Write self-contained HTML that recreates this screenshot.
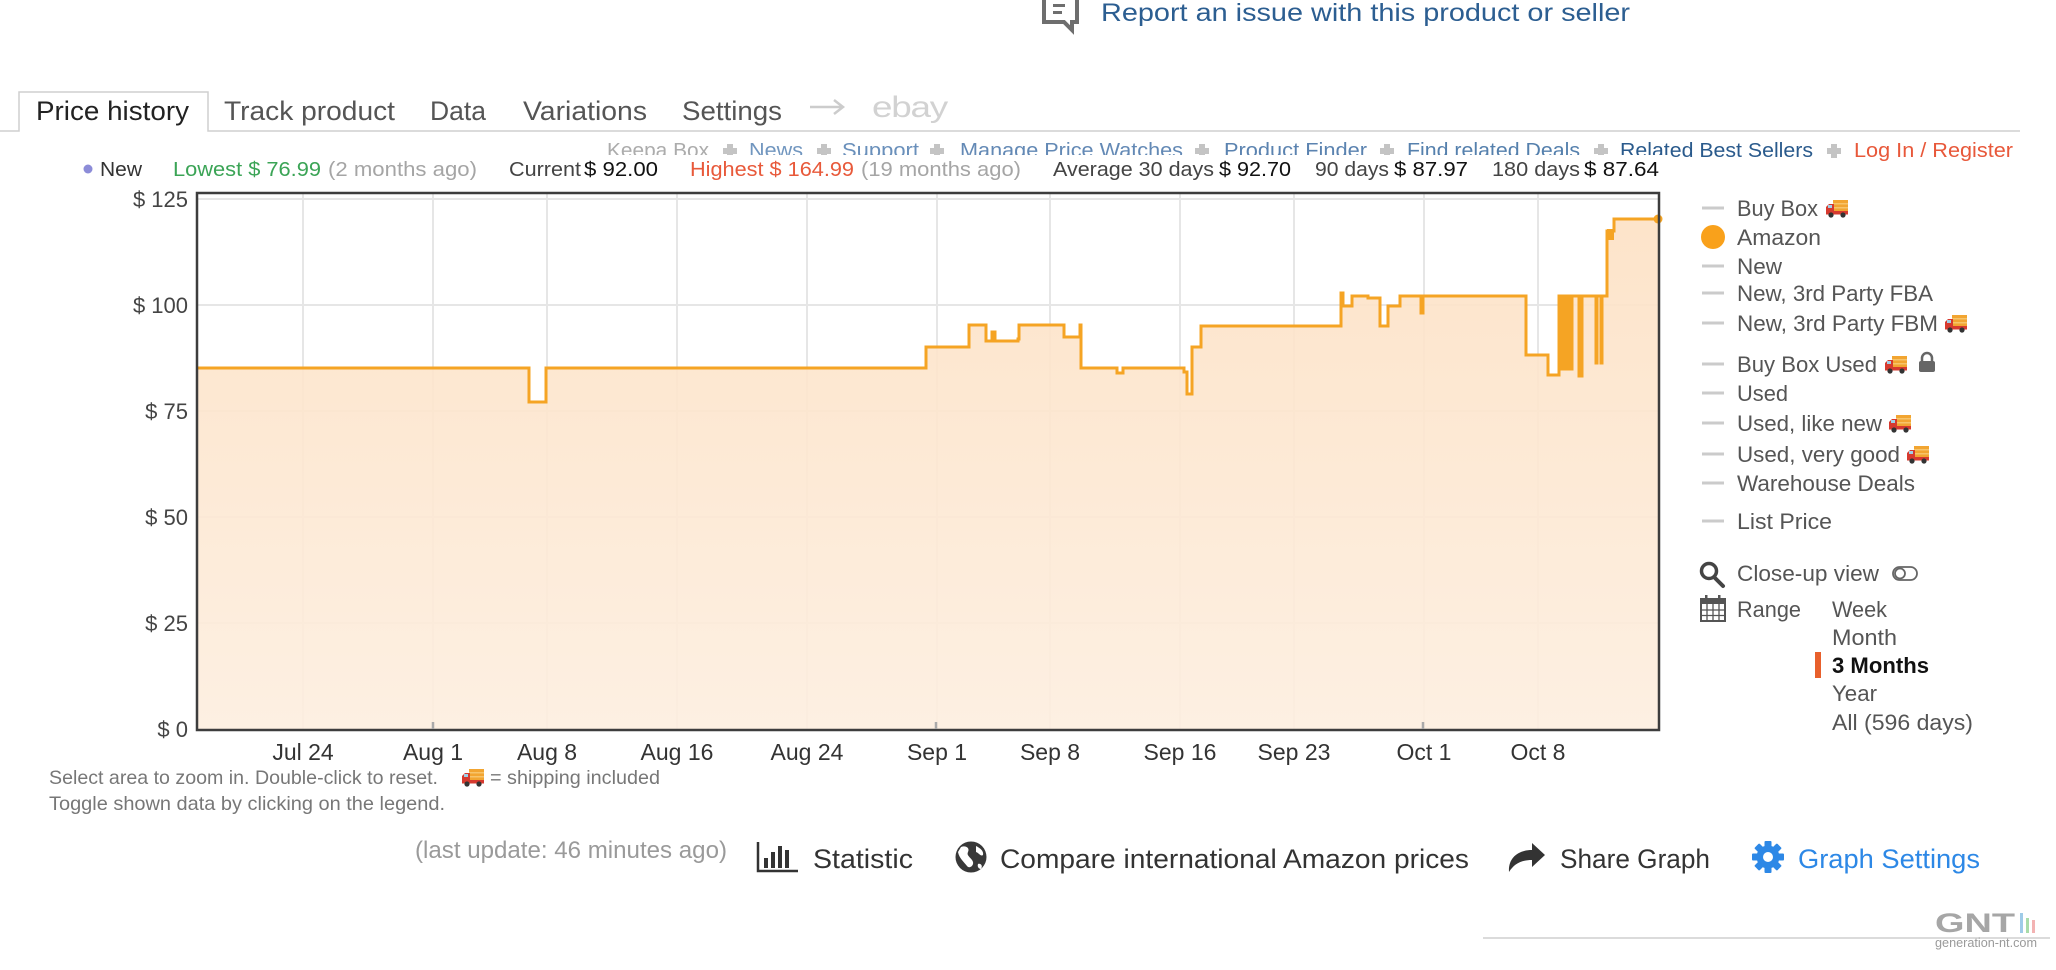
<!DOCTYPE html>
<html>
<head>
<meta charset="utf-8">
<style>
  html, body { margin:0; padding:0; background:#fff; }
  body { width:2056px; height:970px; overflow:hidden; }
  svg { display:block; }
  text { font-family: "Liberation Sans", Arial, sans-serif; }
</style>
</head>
<body>
<svg width="2056" height="970" viewBox="0 0 2056 970" xmlns="http://www.w3.org/2000/svg">
  <defs>
    <linearGradient id="fillg" x1="0" y1="219" x2="0" y2="729" gradientUnits="userSpaceOnUse">
      <stop offset="0" stop-color="#fde1c4"/>
      <stop offset="1" stop-color="#fdeedf"/>
    </linearGradient>
  </defs>

  <!-- Report issue -->
  <g fill="none" stroke="#6e6e6e" stroke-width="4">
    <path d="M1044,-4 V22 H1064 L1072,30 V22 H1077 V-4"/>
  </g>
  <rect x="1053" y="4" width="12" height="3" fill="#6e6e6e"/>
  <rect x="1053" y="11" width="9" height="3" fill="#6e6e6e"/>
  <text x="1101" y="21" font-size="25" fill="#2c5e91" textLength="529" lengthAdjust="spacingAndGlyphs">Report an issue with this product or seller</text>

  <!-- Tabs -->
  <path d="M0,131 H19 V92 H208 V131 H2020" fill="none" stroke="#cfcfcf" stroke-width="1.5"/>
  <text x="36" y="120" font-size="27" fill="#222" textLength="153" lengthAdjust="spacingAndGlyphs">Price history</text>
  <text x="224" y="120" font-size="27" fill="#555" textLength="171" lengthAdjust="spacingAndGlyphs">Track product</text>
  <text x="430" y="120" font-size="27" fill="#555" textLength="56" lengthAdjust="spacingAndGlyphs">Data</text>
  <text x="523" y="120" font-size="27" fill="#555" textLength="124" lengthAdjust="spacingAndGlyphs">Variations</text>
  <text x="682" y="120" font-size="27" fill="#555" textLength="100" lengthAdjust="spacingAndGlyphs">Settings</text>
  <path d="M810,107 H842 M834,100 L843,107 L834,114" fill="none" stroke="#cccccc" stroke-width="2.5"/>
  <text x="872" y="117" font-size="30" fill="#d2d2d2" textLength="75" lengthAdjust="spacingAndGlyphs" letter-spacing="-1">ebay</text>

  <!-- Links row -->
  <g font-size="20.5">
    <text x="607" y="157" fill="#acacac" textLength="102" lengthAdjust="spacingAndGlyphs">Keepa Box</text>
    <text x="749" y="157" fill="#7196bf" textLength="54" lengthAdjust="spacingAndGlyphs">News</text>
    <text x="842" y="157" fill="#6a90bb" textLength="77" lengthAdjust="spacingAndGlyphs">Support</text>
    <text x="960" y="157" fill="#6389b5" textLength="223" lengthAdjust="spacingAndGlyphs">Manage Price Watches</text>
    <text x="1224" y="157" fill="#5b83b0" textLength="143" lengthAdjust="spacingAndGlyphs">Product Finder</text>
    <text x="1407" y="157" fill="#5580ad" textLength="173" lengthAdjust="spacingAndGlyphs">Find related Deals</text>
    <text x="1620" y="157" fill="#2a5a8c" textLength="193" lengthAdjust="spacingAndGlyphs">Related Best Sellers</text>
    <text x="1854" y="157" fill="#e8583a" textLength="159" lengthAdjust="spacingAndGlyphs">Log In / Register</text>
  </g>
  <g fill="#c4c4c4">
    <path d="M727,144 h6 v4 h4 v6 h-4 v4 h-6 v-4 h-4 v-6 h4z"/>
    <path d="M821,144 h6 v4 h4 v6 h-4 v4 h-6 v-4 h-4 v-6 h4z"/>
    <path d="M934,144 h6 v4 h4 v6 h-4 v4 h-6 v-4 h-4 v-6 h4z"/>
    <path d="M1199,144 h6 v4 h4 v6 h-4 v4 h-6 v-4 h-4 v-6 h4z"/>
    <path d="M1384,144 h6 v4 h4 v6 h-4 v4 h-6 v-4 h-4 v-6 h4z"/>
    <path d="M1598,144 h6 v4 h4 v6 h-4 v4 h-6 v-4 h-4 v-6 h4z"/>
    <path d="M1831,144 h6 v4 h4 v6 h-4 v4 h-6 v-4 h-4 v-6 h4z"/>
  </g>
  <rect x="70" y="155" width="1600" height="34" fill="#fff"/>

  <!-- Stats row -->
  <circle cx="88" cy="169" r="4.5" fill="#8c8cd8"/>
  <g font-size="20.5">
    <text x="100" y="176" fill="#333" textLength="42" lengthAdjust="spacingAndGlyphs">New</text>
    <text x="173" y="176" fill="#3ba456" textLength="148" lengthAdjust="spacingAndGlyphs">Lowest $ 76.99</text>
    <text x="328" y="176" fill="#a5a5a5" textLength="149" lengthAdjust="spacingAndGlyphs">(2 months ago)</text>
    <text x="509" y="176" fill="#444" textLength="72" lengthAdjust="spacingAndGlyphs">Current</text>
    <text x="584" y="176" fill="#111" textLength="74" lengthAdjust="spacingAndGlyphs">$ 92.00</text>
    <text x="690" y="176" fill="#e8593a" textLength="164" lengthAdjust="spacingAndGlyphs">Highest $ 164.99</text>
    <text x="861" y="176" fill="#a5a5a5" textLength="160" lengthAdjust="spacingAndGlyphs">(19 months ago)</text>
    <text x="1053" y="176" fill="#444" textLength="161" lengthAdjust="spacingAndGlyphs">Average 30 days</text>
    <text x="1219" y="176" fill="#111" textLength="72" lengthAdjust="spacingAndGlyphs">$ 92.70</text>
    <text x="1315" y="176" fill="#444" textLength="74" lengthAdjust="spacingAndGlyphs">90 days</text>
    <text x="1394" y="176" fill="#111" textLength="74" lengthAdjust="spacingAndGlyphs">$ 87.97</text>
    <text x="1492" y="176" fill="#444" textLength="88" lengthAdjust="spacingAndGlyphs">180 days</text>
    <text x="1584" y="176" fill="#111" textLength="75" lengthAdjust="spacingAndGlyphs">$ 87.64</text>
  </g>

  <!-- Grid -->
  <g stroke="#e6e6e6" stroke-width="2">
    <line x1="197" y1="199" x2="1659" y2="199"/>
    <line x1="197" y1="305" x2="1659" y2="305"/>
    <line x1="197" y1="411" x2="1659" y2="411"/>
    <line x1="197" y1="517" x2="1659" y2="517"/>
    <line x1="197" y1="623" x2="1659" y2="623"/>
    <line x1="303" y1="193" x2="303" y2="729"/>
    <line x1="433" y1="193" x2="433" y2="729"/>
    <line x1="547" y1="193" x2="547" y2="729"/>
    <line x1="677" y1="193" x2="677" y2="729"/>
    <line x1="807" y1="193" x2="807" y2="729"/>
    <line x1="937" y1="193" x2="937" y2="729"/>
    <line x1="1050" y1="193" x2="1050" y2="729"/>
    <line x1="1180" y1="193" x2="1180" y2="729"/>
    <line x1="1294" y1="193" x2="1294" y2="729"/>
    <line x1="1424" y1="193" x2="1424" y2="729"/>
    <line x1="1538" y1="193" x2="1538" y2="729"/>
  </g>

  <!-- Area fill -->
  <path fill="url(#fillg)" fill-opacity="0.9" d="M197,368 H529 V402 H546 V368 H926 V347 H969 V325 H986 V341 H992 V332 H995 V341 H1018 V339 H1019 V325 H1064 V337 H1080 V325 H1081 V368 H1117 V373 H1123 V368 H1184 V372 H1187 V394 H1192 V347 H1201 V326 H1341 V293 H1343 V306 H1352 V296 H1368 V298 H1380 V326 H1388 V306 H1400 V296 H1421 V313 H1423 V296 H1526 V355 H1548 V375 H1559 V296 H1607 V231 H1614 V219 H1658 V729 H197 Z"/>

  <!-- Price line -->
  <path fill="none" stroke="#f5a424" stroke-width="3" stroke-linejoin="miter" d="M197,368 H529 V402 H546 V368 H926 V347 H969 V325 H986 V341 H992 V332 H995 V341 H1018 V339 H1019 V325 H1064 V337 H1080 V325 H1081 V368 H1117 V373 H1123 V368 H1184 V372 H1187 V394 H1192 V347 H1201 V326 H1341 V293 H1343 V306 H1352 V296 H1368 V298 H1380 V326 H1388 V306 H1400 V296 H1421 V313 H1423 V296 H1526 V355 H1548 V375 H1559 V296 H1562 V369 H1563 V296 H1565 V369 H1566 V296 H1568 V369 H1569 V296 H1571 V369 H1572 V296 H1579 V376 H1582 V296 H1596 V363 H1597 V296 H1601 V363 H1602 V296 H1607 V231 H1614 V219 H1658"/>
  <rect x="1561" y="296" width="11" height="73" fill="#f5a424"/>
  <rect x="1607" y="229" width="7" height="11" fill="#f5a424"/>
  <circle cx="1658" cy="219" r="4.5" fill="#f5a424"/>

  <!-- Axis frame -->
  <rect x="197" y="193" width="1462" height="537" fill="none" stroke="#3d3d3d" stroke-width="2.5"/>
  <g stroke="#aaaaaa" stroke-width="2.5">
    <line x1="433" y1="722" x2="433" y2="729"/>
    <line x1="936" y1="722" x2="936" y2="729"/>
    <line x1="1423" y1="722" x2="1423" y2="729"/>
  </g>

  <!-- Y labels -->
  <g font-size="22" fill="#444" text-anchor="end">
    <text x="188" y="207">$ 125</text>
    <text x="188" y="313">$ 100</text>
    <text x="188" y="419">$ 75</text>
    <text x="188" y="525">$ 50</text>
    <text x="188" y="631">$ 25</text>
    <text x="188" y="737">$ 0</text>
  </g>

  <!-- X labels -->
  <g font-size="23" fill="#333" text-anchor="middle">
    <text x="303" y="760">Jul 24</text>
    <text x="433" y="760">Aug 1</text>
    <text x="547" y="760">Aug 8</text>
    <text x="677" y="760">Aug 16</text>
    <text x="807" y="760">Aug 24</text>
    <text x="937" y="760">Sep 1</text>
    <text x="1050" y="760">Sep 8</text>
    <text x="1180" y="760">Sep 16</text>
    <text x="1294" y="760">Sep 23</text>
    <text x="1424" y="760">Oct 1</text>
    <text x="1538" y="760">Oct 8</text>
  </g>

  <!-- Notes under chart -->
  <g font-size="19.5" fill="#777">
    <text x="49" y="784" textLength="389" lengthAdjust="spacingAndGlyphs">Select area to zoom in. Double-click to reset.</text>
    <text x="490" y="784" textLength="170" lengthAdjust="spacingAndGlyphs">= shipping included</text>
    <text x="49" y="810" textLength="396" lengthAdjust="spacingAndGlyphs">Toggle shown data by clicking on the legend.</text>
  </g>

  <!-- Trucks -->
  <g transform="translate(462,769)">
    <rect x="7" y="0" width="15" height="11" fill="#f2a531"/>
    <rect x="7" y="3" width="15" height="1.5" fill="#f7c46a"/>
    <rect x="7" y="7" width="15" height="1.5" fill="#f7c46a"/>
    <path d="M0,13 V7 L3,4 H8 V13 Z" fill="#d63a2f"/>
    <rect x="2" y="5" width="4" height="3" fill="#9fd0e8"/>
    <rect x="0" y="11" width="22" height="3.5" fill="#d63a2f"/>
    <circle cx="5" cy="15" r="2.6" fill="#333"/>
    <circle cx="17" cy="15" r="2.6" fill="#333"/>
  </g>
  <g transform="translate(1826,200)">
    <rect x="7" y="0" width="15" height="11" fill="#f2a531"/>
    <rect x="7" y="3" width="15" height="1.5" fill="#f7c46a"/>
    <rect x="7" y="7" width="15" height="1.5" fill="#f7c46a"/>
    <path d="M0,13 V7 L3,4 H8 V13 Z" fill="#d63a2f"/>
    <rect x="2" y="5" width="4" height="3" fill="#9fd0e8"/>
    <rect x="0" y="11" width="22" height="3.5" fill="#d63a2f"/>
    <circle cx="5" cy="15" r="2.6" fill="#333"/>
    <circle cx="17" cy="15" r="2.6" fill="#333"/>
  </g>
  <g transform="translate(1945,315)">
    <rect x="7" y="0" width="15" height="11" fill="#f2a531"/>
    <rect x="7" y="3" width="15" height="1.5" fill="#f7c46a"/>
    <rect x="7" y="7" width="15" height="1.5" fill="#f7c46a"/>
    <path d="M0,13 V7 L3,4 H8 V13 Z" fill="#d63a2f"/>
    <rect x="2" y="5" width="4" height="3" fill="#9fd0e8"/>
    <rect x="0" y="11" width="22" height="3.5" fill="#d63a2f"/>
    <circle cx="5" cy="15" r="2.6" fill="#333"/>
    <circle cx="17" cy="15" r="2.6" fill="#333"/>
  </g>
  <g transform="translate(1885,356)">
    <rect x="7" y="0" width="15" height="11" fill="#f2a531"/>
    <rect x="7" y="3" width="15" height="1.5" fill="#f7c46a"/>
    <rect x="7" y="7" width="15" height="1.5" fill="#f7c46a"/>
    <path d="M0,13 V7 L3,4 H8 V13 Z" fill="#d63a2f"/>
    <rect x="2" y="5" width="4" height="3" fill="#9fd0e8"/>
    <rect x="0" y="11" width="22" height="3.5" fill="#d63a2f"/>
    <circle cx="5" cy="15" r="2.6" fill="#333"/>
    <circle cx="17" cy="15" r="2.6" fill="#333"/>
  </g>
  <g transform="translate(1889,415)">
    <rect x="7" y="0" width="15" height="11" fill="#f2a531"/>
    <rect x="7" y="3" width="15" height="1.5" fill="#f7c46a"/>
    <rect x="7" y="7" width="15" height="1.5" fill="#f7c46a"/>
    <path d="M0,13 V7 L3,4 H8 V13 Z" fill="#d63a2f"/>
    <rect x="2" y="5" width="4" height="3" fill="#9fd0e8"/>
    <rect x="0" y="11" width="22" height="3.5" fill="#d63a2f"/>
    <circle cx="5" cy="15" r="2.6" fill="#333"/>
    <circle cx="17" cy="15" r="2.6" fill="#333"/>
  </g>
  <g transform="translate(1907,446)">
    <rect x="7" y="0" width="15" height="11" fill="#f2a531"/>
    <rect x="7" y="3" width="15" height="1.5" fill="#f7c46a"/>
    <rect x="7" y="7" width="15" height="1.5" fill="#f7c46a"/>
    <path d="M0,13 V7 L3,4 H8 V13 Z" fill="#d63a2f"/>
    <rect x="2" y="5" width="4" height="3" fill="#9fd0e8"/>
    <rect x="0" y="11" width="22" height="3.5" fill="#d63a2f"/>
    <circle cx="5" cy="15" r="2.6" fill="#333"/>
    <circle cx="17" cy="15" r="2.6" fill="#333"/>
  </g>

  <!-- Lock -->
  <rect x="1919" y="361" width="16" height="11" rx="2" fill="#666"/>
  <path d="M1922,362 V358 a5,5 0 0 1 10,0 V362" fill="none" stroke="#666" stroke-width="2.5"/>

  <!-- Legend -->
  <g stroke="#cbcbcb" stroke-width="3">
    <line x1="1702" y1="208" x2="1724" y2="208"/>
    <line x1="1702" y1="266" x2="1724" y2="266"/>
    <line x1="1702" y1="293" x2="1724" y2="293"/>
    <line x1="1702" y1="323" x2="1724" y2="323"/>
    <line x1="1702" y1="364" x2="1724" y2="364"/>
    <line x1="1702" y1="393" x2="1724" y2="393"/>
    <line x1="1702" y1="423" x2="1724" y2="423"/>
    <line x1="1702" y1="454" x2="1724" y2="454"/>
    <line x1="1702" y1="483" x2="1724" y2="483"/>
    <line x1="1702" y1="521" x2="1724" y2="521"/>
  </g>
  <circle cx="1713" cy="237" r="12" fill="#f9a11b"/>
  <g font-size="22" fill="#555">
    <text x="1737" y="216" textLength="81" lengthAdjust="spacingAndGlyphs">Buy Box</text>
    <text x="1737" y="245" textLength="84" lengthAdjust="spacingAndGlyphs">Amazon</text>
    <text x="1737" y="274" textLength="45" lengthAdjust="spacingAndGlyphs">New</text>
    <text x="1737" y="301" textLength="196" lengthAdjust="spacingAndGlyphs">New, 3rd Party FBA</text>
    <text x="1737" y="331" textLength="201" lengthAdjust="spacingAndGlyphs">New, 3rd Party FBM</text>
    <text x="1737" y="372" textLength="140" lengthAdjust="spacingAndGlyphs">Buy Box Used</text>
    <text x="1737" y="401" textLength="51" lengthAdjust="spacingAndGlyphs">Used</text>
    <text x="1737" y="431" textLength="145" lengthAdjust="spacingAndGlyphs">Used, like new</text>
    <text x="1737" y="462" textLength="163" lengthAdjust="spacingAndGlyphs">Used, very good</text>
    <text x="1737" y="491" textLength="178" lengthAdjust="spacingAndGlyphs">Warehouse Deals</text>
    <text x="1737" y="529" textLength="95" lengthAdjust="spacingAndGlyphs">List Price</text>
  </g>

  <!-- Close-up / Range -->
  <circle cx="1709" cy="571" r="7.5" fill="none" stroke="#444" stroke-width="3.5"/>
  <line x1="1714" y1="577" x2="1723" y2="586" stroke="#444" stroke-width="4" stroke-linecap="round"/>
  <g font-size="22" fill="#555">
    <text x="1737" y="581" textLength="142" lengthAdjust="spacingAndGlyphs">Close-up view</text>
    <text x="1737" y="617" textLength="64" lengthAdjust="spacingAndGlyphs">Range</text>
    <text x="1832" y="617" textLength="55" lengthAdjust="spacingAndGlyphs">Week</text>
    <text x="1832" y="645" textLength="65" lengthAdjust="spacingAndGlyphs">Month</text>
    <text x="1832" y="701" textLength="45" lengthAdjust="spacingAndGlyphs">Year</text>
    <text x="1832" y="730" textLength="141" lengthAdjust="spacingAndGlyphs">All (596 days)</text>
  </g>
  <text x="1832" y="673" font-size="22" font-weight="bold" fill="#111" textLength="97" lengthAdjust="spacingAndGlyphs">3 Months</text>
  <rect x="1815" y="652" width="6" height="26" fill="#e8602c"/>
  <rect x="1893" y="567" width="24" height="13" rx="6.5" fill="none" stroke="#666" stroke-width="1.8"/>
  <circle cx="1900" cy="573.5" r="5" fill="none" stroke="#666" stroke-width="1.8"/>
  <!-- calendar -->
  <rect x="1701" y="599" width="24" height="22" fill="none" stroke="#555" stroke-width="2"/>
  <rect x="1701" y="599" width="24" height="5" fill="#555"/>
  <g stroke="#555" stroke-width="1.3">
    <line x1="1707" y1="604" x2="1707" y2="621"/>
    <line x1="1713" y1="604" x2="1713" y2="621"/>
    <line x1="1719" y1="604" x2="1719" y2="621"/>
    <line x1="1701" y1="610" x2="1725" y2="610"/>
    <line x1="1701" y1="615.5" x2="1725" y2="615.5"/>
  </g>
  <rect x="1705" y="595" width="2.5" height="6" fill="#555"/>
  <rect x="1718" y="595" width="2.5" height="6" fill="#555"/>

  <!-- Bottom toolbar -->
  <text x="415" y="858" font-size="24" fill="#9a9a9a" textLength="312" lengthAdjust="spacingAndGlyphs">(last update: 46 minutes ago)</text>

  <path d="M758,842 V871 H798" fill="none" stroke="#333" stroke-width="2.5"/>
  <rect x="764" y="858" width="4" height="10" fill="#333"/>
  <rect x="771" y="852" width="4" height="16" fill="#333"/>
  <rect x="778" y="846" width="4" height="22" fill="#333"/>
  <rect x="785" y="850" width="4" height="18" fill="#333"/>
  <text x="813" y="868" font-size="27" fill="#333" textLength="100" lengthAdjust="spacingAndGlyphs">Statistic</text>

  <circle cx="971" cy="857" r="15.5" fill="#383838"/>
  <path d="M961,847 C966,845 970,848 968,852 C966,856 972,858 973,862 C974,866 969,869 967,866 C964,862 959,858 958,852 Z" fill="#fff"/>
  <path d="M976,846 C980,848 984,851 983,855 C981,857 979,853 976,852 Z" fill="#fff"/>
  <path d="M978,864 C981,863 983,866 981,869 C979,869 977,867 978,864 Z" fill="#fff"/>
  <text x="1000" y="868" font-size="27" fill="#333" textLength="469" lengthAdjust="spacingAndGlyphs">Compare international Amazon prices</text>

  <path d="M1509,872 C1508,858 1518,850 1532,850 V843 L1545,855 L1532,867 V860 C1521,860 1514,864 1509,872 Z" fill="#333"/>
  <text x="1560" y="868" font-size="27" fill="#333" textLength="150" lengthAdjust="spacingAndGlyphs">Share Graph</text>

  <g transform="translate(1768,857)" fill="#2d88e6">
    <circle r="11.5"/>
    <rect x="-3.5" y="-16" width="7" height="32" rx="1"/>
    <rect x="-3.5" y="-16" width="7" height="32" rx="1" transform="rotate(45)"/>
    <rect x="-3.5" y="-16" width="7" height="32" rx="1" transform="rotate(90)"/>
    <rect x="-3.5" y="-16" width="7" height="32" rx="1" transform="rotate(135)"/>
    <circle r="5" fill="#fff"/>
  </g>
  <text x="1798" y="868" font-size="27" fill="#2d88e6" textLength="182" lengthAdjust="spacingAndGlyphs">Graph Settings</text>

  <!-- Bottom line + logo -->
  <line x1="1483" y1="938" x2="2050" y2="938" stroke="#cfcfcf" stroke-width="1.5"/>
  <text x="1935" y="932" font-size="27" font-weight="bold" fill="#a6a6a6" textLength="80" lengthAdjust="spacingAndGlyphs">GNT</text>
  <rect x="2020" y="913" width="3" height="20" fill="#9fcbe8"/>
  <rect x="2026" y="918" width="3" height="15" fill="#a9dca9"/>
  <rect x="2032" y="920" width="3" height="13" fill="#f3b3b3"/>
  <text x="1935" y="947" font-size="13" fill="#9a9a9a" textLength="102" lengthAdjust="spacingAndGlyphs">generation-nt.com</text>
</svg>
</body>
</html>
